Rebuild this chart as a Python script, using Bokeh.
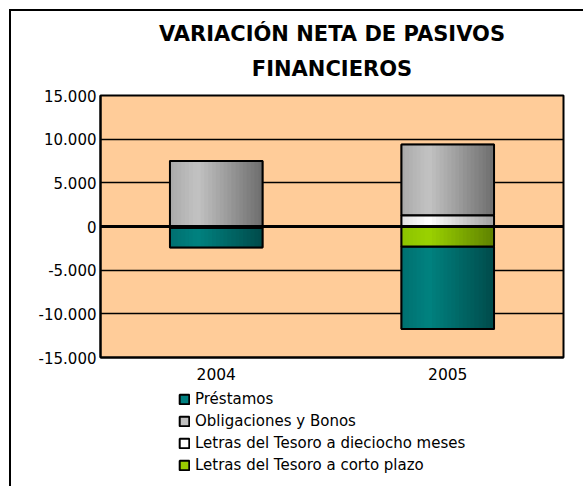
from bokeh.plotting import figure
from bokeh.layouts import column
from bokeh.models import Range1d, FactorRange, Legend, LegendItem, Span, FixedTicker, Title
from bokeh.transform import dodge
from bokeh.embed import file_html
from bokeh.resources import INLINE

years = ["2004", "2005"]
prestamos = [-2250, -9450]
obligaciones = [7500, 8150]
letras_18 = [0, 1250]
letras_cp = [-150, -2300]
tick_values = [-15000, -10000, -5000, 0, 5000, 10000, 15000]
tick_labels = ["-15.000", "-10.000", "-5.000", "0", "5.000", "10.000", "15.000"]
title_lines = ["VARIACIÓN NETA DE PASIVOS", "FINANCIEROS"]

# stacking: positives upward from zero, negatives downward
l18_bottom = [0, 0]
l18_top = [a for a in letras_18]
obl_bottom = l18_top
obl_top = [a + b for a, b in zip(l18_top, obligaciones)]
cp_top = [0, 0]
cp_bottom = [a for a in letras_cp]
pre_top = cp_bottom
pre_bottom = [a + b for a, b in zip(cp_bottom, prestamos)]

W = 572
H_MAIN, H_LEG = 375, 100
FONT = "DejaVu Sans"

p = figure(x_range=FactorRange(*years, range_padding=0), y_range=Range1d(-15000, 15000),
           width=W, height=H_MAIN, output_backend="svg", toolbar_location=None,
           min_border_left=89, min_border_right=20, min_border_top=84, min_border_bottom=29,
           background_fill_color="#FFCC99", border_fill_color="white")
p.outline_line_color = "black"
p.outline_line_width = 2
p.xgrid.visible = False
p.ygrid.grid_line_color = "black"
p.ygrid.grid_line_width = 1.5
p.yaxis.ticker = FixedTicker(ticks=tick_values)
p.yaxis.major_label_overrides = {v: s for v, s in zip(tick_values, tick_labels)}
for ax in (p.xaxis, p.yaxis):
    ax.axis_line_color = "black"
    ax.axis_line_width = 2
    ax.major_tick_line_color = None
    ax.minor_tick_line_color = None
    ax.major_tick_out = 0
    ax.major_tick_in = 0
    ax.minor_tick_out = 0
    ax.minor_tick_in = 0
    ax.major_label_text_font = FONT
    ax.major_label_text_font_size = "15px"
    ax.major_label_text_color = "black"
p.xaxis.major_label_text_font_size = "15.5px"
p.yaxis.major_label_standoff = 4
p.xaxis.major_label_standoff = 10

# titles: first added sits closest to the plot frame
p.add_layout(Title(text=title_lines[1], align="center", offset=-2, standoff=29,
                   text_font=FONT, text_font_style="bold", text_font_size="21px",
                   text_color="black"), "above")
p.add_layout(Title(text=title_lines[0], align="center", offset=-2, standoff=-10,
                   text_font=FONT, text_font_style="bold", text_font_size="21px",
                   text_color="black"), "above")

# legend strip
leg = figure(x_range=FactorRange(*years), y_range=Range1d(30000, 60000),
             width=W, height=H_LEG, output_backend="svg", toolbar_location=None,
             min_border=0, border_fill_color="white", background_fill_color="white")
leg.axis.visible = False
leg.grid.visible = False
leg.outline_line_color = None

BW = 0.4
N = 24

def hexc(r, g, b):
    return "#%02x%02x%02x" % (int(r), int(g), int(b))

def grad(c_left, c_peak, c_right, t):
    if t < 0.3:
        f = t / 0.3
        a, b = c_left, c_peak
    else:
        f = (t - 0.3) / 0.7
        a, b = c_peak, c_right
    return hexc(*[a[i] + (b[i] - a[i]) * f for i in range(3)])

series = [
    ("Préstamos", pre_bottom, pre_top, "#008080", ((0, 112, 112), (0, 130, 128), (0, 75, 75))),
    ("Obligaciones y Bonos", obl_bottom, obl_top, "#c0c0c0", ((170, 170, 170), (195, 195, 195), (110, 110, 110))),
    ("Letras del Tesoro a dieciocho meses", l18_bottom, l18_top, "#ffffff", ((225, 225, 225), (255, 255, 255), (160, 160, 160))),
    ("Letras del Tesoro a corto plazo", cp_bottom, cp_top, "#99cc00", ((140, 195, 0), (155, 210, 0), (95, 130, 0))),
]

items = []
for name, bot, top, solid, (cl, cpk, cr) in series:
    src = dict(x=years, top=top, bottom=bot)
    p.vbar(x="x", top="top", bottom="bottom", width=BW, source=src,
           fill_color=solid, line_color="black", line_width=1.5)
    for i in range(N):
        t = (i + 0.5) / N
        off = -BW / 2 + t * BW
        p.vbar(x=dodge("x", off, range=p.x_range), top="top", bottom="bottom",
               width=BW / N * 1.15, source=src, fill_color=grad(cl, cpk, cr, t),
               line_color=None)
    p.vbar(x="x", top="top", bottom="bottom", width=BW, source=src,
           fill_color=None, line_color="black", line_width=2)
    r = leg.vbar(x="x", top="top", bottom="bottom", width=BW, source=dict(src),
                 fill_color=solid, line_color="black", line_width=2, visible=False)
    items.append(LegendItem(label=name, renderers=[r]))

p.add_layout(Span(location=0, dimension="width", line_color="black", line_width=3))

legend = Legend(items=items, orientation="vertical", location=(78, 12),
                background_fill_alpha=0, border_line_color=None,
                inactive_fill_alpha=0,
                label_text_font=FONT, label_text_font_size="15px", label_text_color="black",
                glyph_width=12, glyph_height=12, label_standoff=5, spacing=4,
                padding=0, margin=0, label_height=17)
leg.add_layout(legend, "center")

layout = column(p, leg, spacing=0,
                styles={"margin-left": "9px", "margin-top": "9px",
                        "border-top": "2px solid black", "border-left": "2px solid black"})

open("out.html", "w").write(file_html(layout, INLINE))
